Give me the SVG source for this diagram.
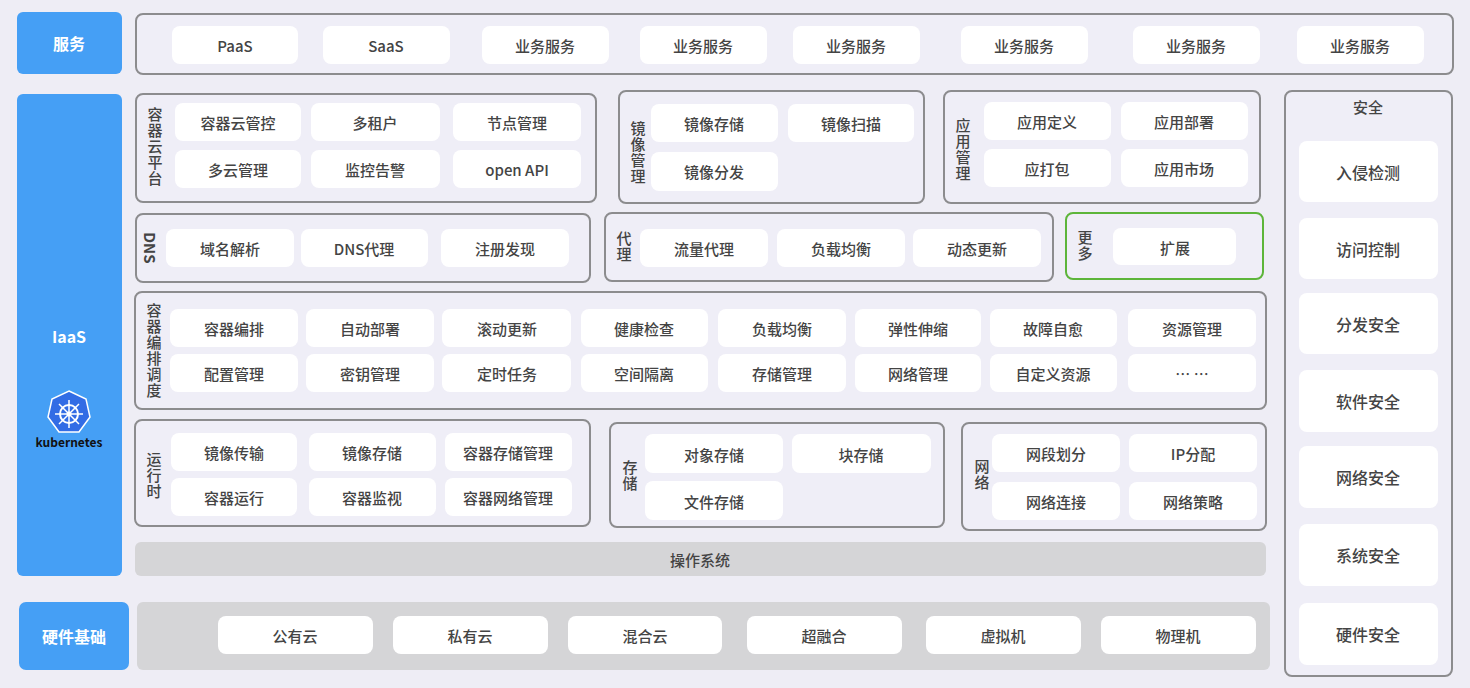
<svg xmlns="http://www.w3.org/2000/svg" width="1470" height="688" viewBox="0 0 1470 688">
<style>
text{font-family:"Noto Sans CJK SC","Liberation Sans",sans-serif;font-size:15px;fill:#444;text-anchor:middle;dominant-baseline:central;font-weight:500}
.f{fill:#efeef7;stroke:#8c8c8e;stroke-width:2}
.i{fill:#fff}
.b{fill:#459ff5}
.bt{fill:#fff;font-weight:bold;font-size:16px}
.g{fill:#d5d5d7}
.v{writing-mode:tb;glyph-orientation-vertical:0;letter-spacing:1px}
</style>
<rect width="1470" height="688" fill="#eeedf5"/>
<g id="services">
<rect class="b" x="17" y="12" width="105" height="62" rx="6"/><text class="bt" x="69" y="43">服务</text>
<rect class="f" x="136" y="14" width="1317" height="60" rx="7"/>
<rect class="i" x="172" y="26" width="126" height="38" rx="8"/><text x="235" y="45">PaaS</text>
<rect class="i" x="323" y="26" width="127" height="38" rx="8"/><text x="386" y="45">SaaS</text>
<rect class="i" x="482" y="26" width="127" height="38" rx="8"/><text x="545" y="45">业务服务</text>
<rect class="i" x="640" y="26" width="127" height="38" rx="8"/><text x="703" y="45">业务服务</text>
<rect class="i" x="793" y="26" width="127" height="38" rx="8"/><text x="856" y="45">业务服务</text>
<rect class="i" x="961" y="26" width="127" height="38" rx="8"/><text x="1024" y="45">业务服务</text>
<rect class="i" x="1133" y="26" width="127" height="38" rx="8"/><text x="1196" y="45">业务服务</text>
<rect class="i" x="1297" y="26" width="127" height="38" rx="8"/><text x="1360" y="45">业务服务</text>
</g>
<g id="iaas">
<rect class="b" x="17" y="94" width="105" height="482" rx="6"/><text class="bt" x="69" y="336">IaaS</text>
<polygon points="69,391 86,399 90,417 79,432 59,432 48,417 52,399" fill="#326ce5" stroke="#fff" stroke-width="1.5"/>
<circle cx="69" cy="414" r="9" fill="none" stroke="#fff" stroke-width="2"/>
<circle cx="69" cy="414" r="2.5" fill="#fff"/>
<path d="M69 400V428M55 414H83M59 404L79 424M79 404L59 424" stroke="#fff" stroke-width="1.5"/>
<text x="69" y="441" style="font-size:12px;font-weight:bold;fill:#111">kubernetes</text>
</g>
<g id="container-cloud">
<rect class="f" x="136" y="94" width="460" height="108" rx="7"/>
<text class="v" x="155" y="147">容器云平台</text>
<rect class="i" x="175" y="103" width="126" height="38" rx="8"/><text x="238" y="122">容器云管控</text>
<rect class="i" x="311" y="103" width="129" height="38" rx="8"/><text x="375" y="122">多租户</text>
<rect class="i" x="453" y="103" width="128" height="38" rx="8"/><text x="517" y="122">节点管理</text>
<rect class="i" x="175" y="150" width="126" height="38" rx="8"/><text x="238" y="169">多云管理</text>
<rect class="i" x="311" y="150" width="129" height="38" rx="8"/><text x="375" y="169">监控告警</text>
<rect class="i" x="453" y="150" width="128" height="38" rx="8"/><text x="517" y="169">open API</text>
</g>
<g id="image">
<rect class="f" x="619" y="91" width="305" height="112" rx="7"/>
<text class="v" x="638" y="153">镜像管理</text>
<rect class="i" x="651" y="104" width="127" height="38" rx="8"/><text x="714" y="123">镜像存储</text>
<rect class="i" x="788" y="104" width="126" height="38" rx="8"/><text x="851" y="123">镜像扫描</text>
<rect class="i" x="651" y="152" width="127" height="39" rx="8"/><text x="714" y="171">镜像分发</text>
</g>
<g id="app">
<rect class="f" x="944" y="91" width="316" height="112" rx="7"/>
<text class="v" x="963" y="150">应用管理</text>
<rect class="i" x="984" y="102" width="127" height="38" rx="8"/><text x="1047" y="121">应用定义</text>
<rect class="i" x="1121" y="102" width="127" height="38" rx="8"/><text x="1184" y="121">应用部署</text>
<rect class="i" x="984" y="149" width="127" height="38" rx="8"/><text x="1047" y="168">应打包</text>
<rect class="i" x="1121" y="149" width="127" height="38" rx="8"/><text x="1184" y="168">应用市场</text>
</g>
<g id="security">
<rect class="f" x="1285" y="91" width="167" height="585" rx="7"/>
<text x="1368" y="106">安全</text>
<rect class="i" x="1299" y="141" width="139" height="61" rx="8"/><text x="1368" y="172" style="font-size:16px">入侵检测</text>
<rect class="i" x="1299" y="218" width="139" height="61" rx="8"/><text x="1368" y="249" style="font-size:16px">访问控制</text>
<rect class="i" x="1299" y="293" width="139" height="61" rx="8"/><text x="1368" y="324" style="font-size:16px">分发安全</text>
<rect class="i" x="1299" y="370" width="139" height="62" rx="8"/><text x="1368" y="401" style="font-size:16px">软件安全</text>
<rect class="i" x="1299" y="446" width="139" height="62" rx="8"/><text x="1368" y="477" style="font-size:16px">网络安全</text>
<rect class="i" x="1299" y="524" width="139" height="62" rx="8"/><text x="1368" y="555" style="font-size:16px">系统安全</text>
<rect class="i" x="1299" y="603" width="139" height="62" rx="8"/><text x="1368" y="634" style="font-size:16px">硬件安全</text>
</g>
<g id="dns">
<rect class="f" x="136" y="214" width="454" height="68" rx="7"/>
<text x="150" y="248" transform="rotate(90 150 248)" style="font-weight:bold">DNS</text>
<rect class="i" x="166" y="229" width="128" height="38" rx="8"/><text x="230" y="248">域名解析</text>
<rect class="i" x="301" y="229" width="127" height="38" rx="8"/><text x="364" y="248">DNS代理</text>
<rect class="i" x="441" y="229" width="128" height="38" rx="8"/><text x="505" y="248">注册发现</text>
</g>
<g id="proxy">
<rect class="f" x="605" y="213" width="448" height="68" rx="7"/>
<text class="v" x="624" y="247">代理</text>
<rect class="i" x="640" y="229" width="128" height="38" rx="8"/><text x="704" y="248">流量代理</text>
<rect class="i" x="777" y="229" width="128" height="38" rx="8"/><text x="841" y="248">负载均衡</text>
<rect class="i" x="913" y="229" width="128" height="38" rx="8"/><text x="977" y="248">动态更新</text>
</g>
<g id="more">
<rect x="1066" y="213" width="197" height="66" rx="7" fill="#efeef7" stroke="#5db53a" stroke-width="2"/>
<text class="v" x="1085" y="246">更多</text>
<rect class="i" x="1113" y="228" width="123" height="37" rx="8"/><text x="1175" y="247">扩展</text>
</g>
<g id="orchestration">
<rect class="f" x="135" y="292" width="1131" height="117" rx="7"/>
<text class="v" x="154" y="351">容器编排调度</text>
<rect class="i" x="170" y="309" width="128" height="38" rx="8"/><text x="234" y="328">容器编排</text>
<rect class="i" x="306" y="309" width="128" height="38" rx="8"/><text x="370" y="328">自动部署</text>
<rect class="i" x="442" y="309" width="129" height="38" rx="8"/><text x="507" y="328">滚动更新</text>
<rect class="i" x="581" y="309" width="127" height="38" rx="8"/><text x="644" y="328">健康检查</text>
<rect class="i" x="718" y="309" width="128" height="38" rx="8"/><text x="782" y="328">负载均衡</text>
<rect class="i" x="855" y="309" width="126" height="38" rx="8"/><text x="918" y="328">弹性伸缩</text>
<rect class="i" x="990" y="309" width="127" height="38" rx="8"/><text x="1053" y="328">故障自愈</text>
<rect class="i" x="1128" y="309" width="128" height="38" rx="8"/><text x="1192" y="328">资源管理</text>
<rect class="i" x="170" y="354" width="128" height="38" rx="8"/><text x="234" y="373">配置管理</text>
<rect class="i" x="306" y="354" width="128" height="38" rx="8"/><text x="370" y="373">密钥管理</text>
<rect class="i" x="442" y="354" width="129" height="38" rx="8"/><text x="507" y="373">定时任务</text>
<rect class="i" x="581" y="354" width="127" height="38" rx="8"/><text x="644" y="373">空间隔离</text>
<rect class="i" x="718" y="354" width="128" height="38" rx="8"/><text x="782" y="373">存储管理</text>
<rect class="i" x="855" y="354" width="126" height="38" rx="8"/><text x="918" y="373">网络管理</text>
<rect class="i" x="990" y="354" width="127" height="38" rx="8"/><text x="1053" y="373">自定义资源</text>
<rect class="i" x="1128" y="354" width="128" height="38" rx="8"/><text x="1192" y="373">… …</text>
</g>
<g id="runtime">
<rect class="f" x="135" y="420" width="455" height="106" rx="7"/>
<text class="v" x="154" y="476">运行时</text>
<rect class="i" x="171" y="433" width="126" height="38" rx="8"/><text x="234" y="452">镜像传输</text>
<rect class="i" x="309" y="433" width="127" height="38" rx="8"/><text x="372" y="452">镜像存储</text>
<rect class="i" x="445" y="433" width="127" height="38" rx="8"/><text x="508" y="452">容器存储管理</text>
<rect class="i" x="171" y="478" width="126" height="38" rx="8"/><text x="234" y="497">容器运行</text>
<rect class="i" x="309" y="478" width="127" height="38" rx="8"/><text x="372" y="497">容器监视</text>
<rect class="i" x="445" y="478" width="127" height="38" rx="8"/><text x="508" y="497">容器网络管理</text>
</g>
<g id="storage">
<rect class="f" x="610" y="423" width="334" height="104" rx="7"/>
<text class="v" x="630" y="476">存储</text>
<rect class="i" x="645" y="434" width="138" height="39" rx="8"/><text x="714" y="454">对象存储</text>
<rect class="i" x="792" y="434" width="139" height="39" rx="8"/><text x="861" y="454">块存储</text>
<rect class="i" x="645" y="481" width="138" height="39" rx="8"/><text x="714" y="501">文件存储</text>
</g>
<g id="network">
<rect class="f" x="962" y="423" width="304" height="107" rx="7"/>
<text class="v" x="982" y="475">网络</text>
<rect class="i" x="992" y="434" width="128" height="38" rx="8"/><text x="1056" y="453">网段划分</text>
<rect class="i" x="1129" y="434" width="128" height="38" rx="8"/><text x="1193" y="453">IP分配</text>
<rect class="i" x="992" y="482" width="128" height="38" rx="8"/><text x="1056" y="501">网络连接</text>
<rect class="i" x="1129" y="482" width="128" height="38" rx="8"/><text x="1193" y="501">网络策略</text>
</g>
<g id="os">
<rect class="g" x="135" y="542" width="1131" height="34" rx="6"/><text x="700" y="559">操作系统</text>
</g>
<g id="hardware">
<rect class="b" x="19" y="602" width="110" height="68" rx="7"/><text class="bt" x="74" y="636">硬件基础</text>
<rect class="g" x="137" y="602" width="1133" height="68" rx="6"/>
<rect class="i" x="218" y="616" width="155" height="38" rx="8"/><text x="295" y="635">公有云</text>
<rect class="i" x="393" y="616" width="155" height="38" rx="8"/><text x="470" y="635">私有云</text>
<rect class="i" x="568" y="616" width="154" height="38" rx="8"/><text x="645" y="635">混合云</text>
<rect class="i" x="747" y="616" width="155" height="38" rx="8"/><text x="824" y="635">超融合</text>
<rect class="i" x="926" y="616" width="155" height="38" rx="8"/><text x="1003" y="635">虚拟机</text>
<rect class="i" x="1101" y="616" width="155" height="38" rx="8"/><text x="1178" y="635">物理机</text>
</g>
<g id="connectors"/>
</svg>
